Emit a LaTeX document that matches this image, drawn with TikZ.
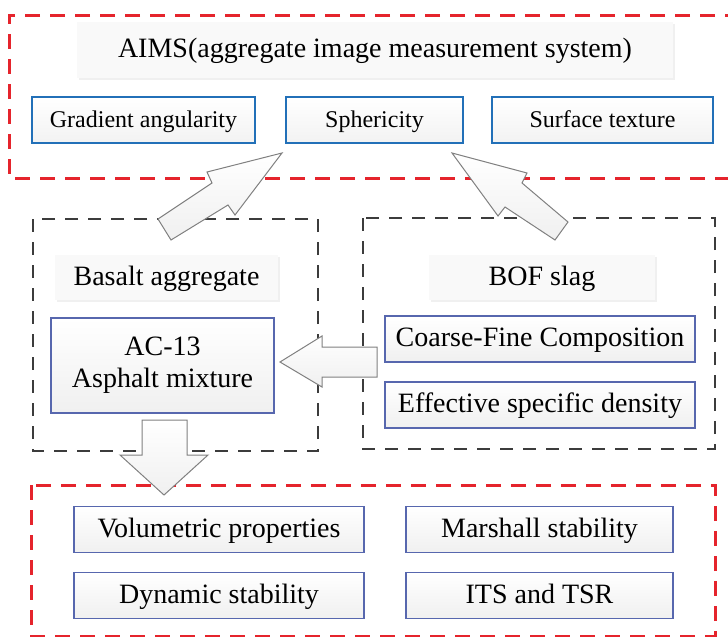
\documentclass[tikz,border=0pt]{standalone}
\usepackage{fontspec}
\setmainfont{Liberation Serif}
\usetikzlibrary{shadows}
\definecolor{framered}{HTML}{E5242C}
\definecolor{frameink}{HTML}{3C3C3C}
\definecolor{topblue}{HTML}{2270B8}
\definecolor{boxblue}{HTML}{5767AE}
\definecolor{arrowink}{HTML}{808080}

\begin{document}
\begin{tikzpicture}[x=0.5pt, y=-0.5pt]
  % one unit = one pixel of the 728 x 637 sketch, y running down
  \useasboundingbox (0,0) rectangle (728,637);
  \tikzset{
    redframe/.style={draw=framered, line width=1.5pt, dash pattern=on 7.5pt off 5pt},
    greyframe/.style={draw=frameink, line width=1.3pt, dash pattern=on 6.5pt off 5pt},
    titlebox/.style={fill=gray!5, minimum height=22.5pt, inner sep=0pt,
                     text height=1.9ex, text depth=0.25ex,
                     font=\fontsize{14}{16}\selectfont,
                     drop shadow={shadow xshift=0.8pt, shadow yshift=-0.8pt, opacity=0.12}},
    propbox/.style={draw=topblue, line width=1pt, top color=white, bottom color=gray!10,
                    minimum height=23pt, inner sep=0pt, text height=1.9ex, text depth=0.25ex,
                    font=\fontsize{12}{14}\selectfont},
    itembox/.style={draw=boxblue, line width=0.9pt, top color=white, bottom color=gray!12,
                    minimum height=23pt, inner sep=0pt, text height=1.9ex, text depth=0.25ex,
                    font=\fontsize{14}{16}\selectfont},
    blockarrow/.style={draw=arrowink, line width=0.5pt, top color=white,
                       bottom color=gray!12, line join=miter}}

  % ========== the dashed frames (right/bottom sides run off the page) ==========
  \draw[redframe]  (740,15) -- (9,15) -- (9,178) -- (740,178);
  \draw[greyframe] (33,219) rectangle (318,451);
  \draw[greyframe] (363,218) rectangle (715,449);
  \draw[redframe]  (31,485) rectangle (715,636);

  % ========== AIMS block ==========
  \node[titlebox, minimum width=298pt, minimum height=28pt] (aims) at (375,50)
    {AIMS(aggregate image measurement system)};
  \node[propbox, minimum width=111.5pt] (grad)  at (143.5,120) {Gradient angularity};
  \node[propbox, minimum width=88.5pt]  (spher) at (374.5,120) {Sphericity};
  \node[propbox, minimum width=110.5pt] (surf)  at (602.5,120) {Surface texture};

  % ========== the two materials ==========
  \node[titlebox, minimum width=111.5pt] (basalt) at (166.5,277.5) {Basalt aggregate};
  \node[titlebox, minimum width=113pt]   (bof)    at (542,277.5)   {BOF slag};
  \node[itembox, minimum width=111.5pt, minimum height=47.5pt, align=center,
        text height=, text depth=] (mix)
    at (162.5,365.5) {AC-13\\Asphalt mixture};
  \node[itembox, minimum width=155pt] (coarse) at (540,339) {Coarse-Fine Composition};
  \node[itembox, minimum width=155pt] (dens)   at (540,405) {Effective specific density};

  % ========== the tests ==========
  \node[itembox, minimum width=145pt]   (vol)   at (219,529.5)   {Volumetric properties};
  \node[itembox, minimum width=133.5pt] (marsh) at (539.5,529.5) {Marshall stability};
  \node[itembox, minimum width=145pt]   (dyn)   at (219,595.5)   {Dynamic stability};
  \node[itembox, minimum width=133.5pt] (its)   at (539.5,595.5) {ITS and TSR};

  % --- block arrows, drawn last so they sit over the dashes ---
  % basalt -> sphericity
  \draw[blockarrow] (158,219) -- (212,183) -- (207,172) -- (282,153) -- (235,215)
    -- (228,205) -- (171,240) -- cycle;
  % slag -> sphericity
  \draw[blockarrow] (452,153) -- (527,173) -- (522,183) -- (568,222) -- (555,240)
    -- (505,207) -- (498,216) -- cycle;
  % slag -> mixture
  \draw[blockarrow] (280,362) -- (322,336) -- (322,347) -- (377,347) -- (377,377)
    -- (322,377) -- (322,387) -- cycle;
  % mixture -> tests
  \draw[blockarrow] (142,420) -- (187,420) -- (187,455) -- (208,455) -- (164,495)
    -- (120,455) -- (142,455) -- cycle;
\end{tikzpicture}
\end{document}
